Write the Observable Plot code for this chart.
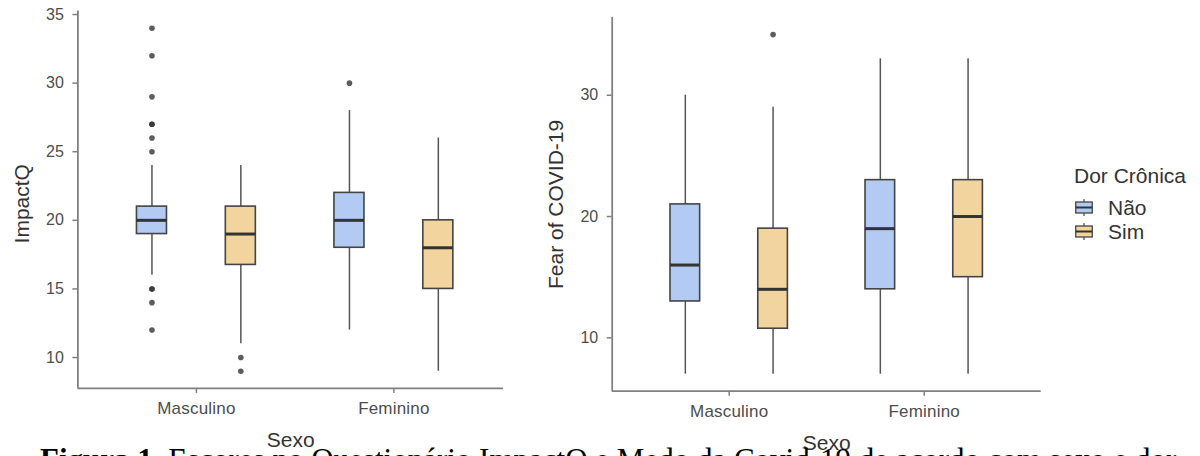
<!DOCTYPE html>
<html>
<head>
<meta charset="utf-8">
<script src="https://cdn.jsdelivr.net/npm/d3@7"></script>
<script src="https://cdn.jsdelivr.net/npm/@observablehq/plot@0.6"></script>
<style>
  html, body { margin: 0; padding: 0; background: #fff; }
  #wrap { position: relative; width: 1200px; height: 456px; overflow: hidden; font-family: "Liberation Sans", Arial, sans-serif; }
  .panel { position: absolute; top: 0; }
  .leg { position: absolute; font-size: 21px; line-height: 21px; color: #333; white-space: nowrap; }
  .key { position: absolute; }
  #caption { position: absolute; left: 40px; top: 444px; font-family: "Liberation Serif", "Times New Roman", serif; font-size: 31px; line-height: 31px; color: #000; white-space: nowrap; }
</style>
</head>
<body>
<div id="wrap">
  <div id="p1" class="panel" style="left:0px"></div>
  <div id="p2" class="panel" style="left:530px"></div>
  <div class="leg" style="left:1074px; top:165px">Dor Crônica</div>
  <div id="legItems"></div>
  <div id="caption"><b>Figura 1.</b> Escores no Questionário ImpactQ e Medo da Covid-19 de acordo com sexo e dor</div>
</div>
<script>
// ---- categories ----
const sexo = ["Masculino", "Feminino"];
const dorCronica = ["Não", "Sim"];
const dorColors = ["#B3CBF2", "#F2D59E"];

// ---- ImpactQ (order: Masculino-Não, Masculino-Sim, Feminino-Não, Feminino-Sim) ----
const impactLow    = [16, 11, 12, 9];
const impactQ1     = [19, 16.75, 18, 15];
const impactMedian = [20, 19, 20, 18];
const impactQ3     = [21, 21, 22, 20];
const impactHigh   = [24, 24, 28, 26];
const impactOutliers = [[34, 32, 29, 27, 27, 26, 25, 15, 15, 14, 12], [10, 9], [30], []];
const impactTicks = [10, 15, 20, 25, 30, 35];

// ---- Fear of COVID-19 ----
const fearLow    = [7, 7, 7, 7];
const fearQ1     = [13, 10.75, 14, 15];
const fearMedian = [16, 14, 19, 20];
const fearQ3     = [21, 19, 23, 23];
const fearHigh   = [30, 29, 33, 33];
const fearOutliers = [[], [35], [], []];
const fearTicks = [10, 20, 30];

const DODGE = 0.225, HW = 0.076;

function buildTable(low, q1, med, q3, high) {
  return low.map((_, i) => {
    const s = Math.floor(i / 2), d = i % 2;
    return {
      sexo: sexo[s], dor: dorCronica[d],
      x: s + 1 + (d === 0 ? -DODGE : DODGE),
      low: low[i], q1: q1[i], med: med[i], q3: q3[i], high: high[i]
    };
  });
}
function buildOutliers(table, outliers) {
  const out = [];
  table.forEach((g, i) => outliers[i].forEach(v => out.push({x: g.x, dor: g.dor, v})));
  return out;
}

function panel(o) {
  const table = buildTable(o.low, o.q1, o.med, o.q3, o.high);
  const outl = buildOutliers(table, o.outliers);
  const axisGrey = "#808080";
  return Plot.plot({
    width: o.width, height: 456,
    marginLeft: o.marginLeft, marginRight: o.marginRight,
    marginTop: o.marginTop, marginBottom: o.marginBottom,
    style: {fontFamily: "'Liberation Sans', Arial, sans-serif", background: "transparent", overflow: "visible"},
    x: {type: "linear", domain: o.xDomain},
    y: {domain: o.yDomain},
    color: {domain: dorCronica, range: dorColors},
    marks: [
      Plot.ruleY([o.yDomain[0]], {stroke: axisGrey, strokeWidth: 1.8}),
      Plot.ruleX([o.xDomain[0]], {stroke: axisGrey, strokeWidth: 1.8}),
      Plot.axisY({ticks: o.yTicks, tickSize: 5, tickPadding: 9, fontSize: 16, stroke: axisGrey, strokeWidth: 1.5, fill: "#4d4d4d", label: null}),
      Plot.axisX({ticks: [1, 2], tickFormat: i => sexo[i - 1], tickSize: 5, tickPadding: 8.5, fontSize: 17, stroke: axisGrey, strokeWidth: 1.5, fill: "#4d4d4d", label: null}),
      Plot.ruleX(table, {x: "x", y1: "low", y2: "q1", stroke: "#555", strokeWidth: 1.5}),
      Plot.ruleX(table, {x: "x", y1: "q3", y2: "high", stroke: "#555", strokeWidth: 1.5}),
      Plot.rect(table, {x1: d => d.x - HW, x2: d => d.x + HW, y1: "q1", y2: "q3", fill: "dor", stroke: "#444", strokeWidth: 1.6}),
      Plot.ruleY(table, {y: "med", x1: d => d.x - HW, x2: d => d.x + HW, stroke: "#333", strokeWidth: 3}),
      Plot.dot(outl, {x: "x", y: "v", r: 2.8, fill: "#333", fillOpacity: 0.8, stroke: null}),
      Plot.text([o.yLabel], {text: d => d, frameAnchor: "left", textAnchor: "middle", rotate: -90, dx: o.yLabelDx, dy: o.yLabelDy, fontSize: 21, fill: "#333"}),
      Plot.text(["Sexo"], {text: d => d, frameAnchor: "bottom", lineAnchor: "top", dy: o.xLabelDy, fontSize: 21, fill: "#333"})
    ]
  });
}

const p1 = panel({
  low: impactLow, q1: impactQ1, med: impactMedian, q3: impactQ3, high: impactHigh, outliers: impactOutliers,
  yDomain: [7.75, 35.25], yTicks: impactTicks, yLabel: "ImpactQ",
  width: 530, marginLeft: 77.4, marginRight: 27, marginTop: 10.6, marginBottom: 68.1,
  xDomain: [0.4, 2.555], yLabelDx: -55.4, yLabelDy: 4, xLabelDy: 44
});
document.getElementById("p1").appendChild(p1);

const p2 = panel({
  low: fearLow, q1: fearQ1, med: fearMedian, q3: fearQ3, high: fearHigh, outliers: fearOutliers,
  yDomain: [5.6, 36.4], yTicks: fearTicks, yLabel: "Fear of COVID-19",
  width: 560, marginLeft: 81.7, marginRight: 49.3, marginTop: 17.1, marginBottom: 65.3,
  xDomain: [0.4, 2.6], yLabelDx: -55.7, yLabelDy: 0, xLabelDy: 44.3
});
document.getElementById("p2").appendChild(p2);

// x tick label spacing
document.querySelectorAll('[aria-label="x-axis tick label"] text').forEach(t => t.style.letterSpacing = "0.2px");

// ---- legend ----
const legItems = document.getElementById("legItems");
dorCronica.forEach((name, i) => {
  const top = i === 0 ? 199 : 223;
  const key = document.createElement("div");
  key.className = "key";
  key.style.left = "1075px"; key.style.top = top + "px";
  key.innerHTML = `<svg width="18" height="17" viewBox="0 0 18 17">
    <line x1="9" x2="9" y1="0" y2="17" stroke="#555" stroke-width="1.3"/>
    <rect x="0.75" y="3" width="16.5" height="11" fill="${dorColors[i]}" stroke="#444" stroke-width="1.3"/>
    <line x1="0.75" x2="17.25" y1="8.5" y2="8.5" stroke="#333" stroke-width="2"/>
  </svg>`;
  legItems.appendChild(key);
  const lab = document.createElement("div");
  lab.className = "leg";
  lab.style.left = "1108px"; lab.style.top = (i === 0 ? 197 : 221) + "px";
  lab.textContent = name;
  legItems.appendChild(lab);
});
</script>
</body>
</html>
